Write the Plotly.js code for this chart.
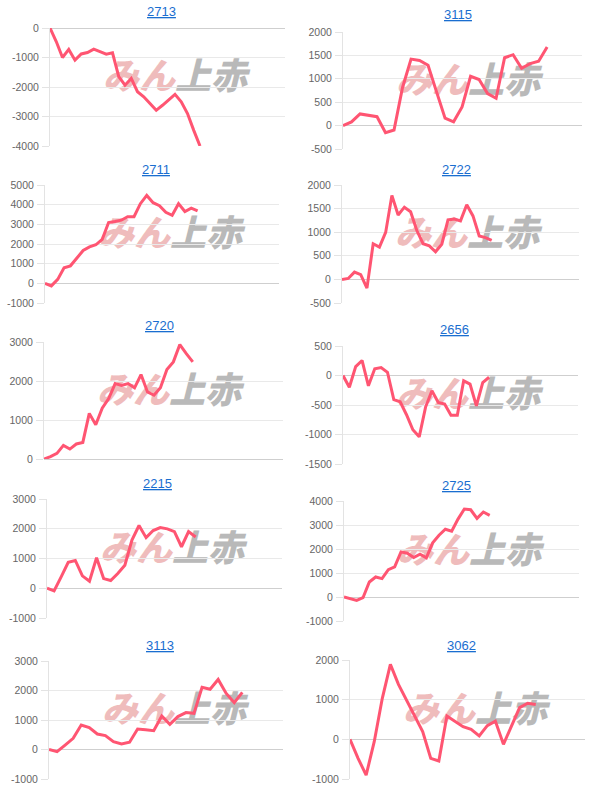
<!DOCTYPE html>
<html>
<head>
<meta charset="utf-8">
<script src="https://cdn.plot.ly/plotly-3.0.1.min.js"></script>
<style>html,body{margin:0;padding:0;background:#fff;}#chart{width:600px;height:790px;}</style>
</head>
<body>
<div id="chart"></div>
<script>
// ---- data ----
const titles = ['2713', '3115', '2711', '2722', '2720', '2656', '2215', '2725', '3113', '3062'];

const s2713 = [0, -460, -1000, -725, -1090, -880, -830, -715, -800, -885, -840, -1650, -1940, -1710, -2160, -2330, -2560, -2790, -2620, -2450, -2250, -2500, -2900, -3470, -4000];
const s3115 = [0, 80, 250, 225, 190, -150, -95, 815, 1420, 1390, 1290, 720, 160, 80, 400, 1055, 985, 685, 585, 1450, 1515, 1225, 1325, 1375, 1680];
const s2711 = [0, -130, 200, 790, 890, 1310, 1670, 1850, 1960, 2240, 3090, 3140, 3210, 3390, 3390, 4050, 4470, 4100, 3950, 3610, 3460, 4050, 3650, 3820, 3680];
const s2722 = [0, 20, 155, 100, -185, 755, 685, 995, 1780, 1365, 1530, 1435, 1035, 755, 710, 585, 745, 1260, 1280, 1240, 1580, 1345, 920, 885, 825];
const s2720 = [0, 60, 145, 350, 255, 385, 425, 1170, 880, 1305, 1550, 1935, 1885, 1935, 1825, 2165, 1720, 1635, 1825, 2295, 2490, 2935, 2700, 2490];
const s2656 = [0, -200, 150, 255, -175, 115, 135, 55, -410, -445, -665, -920, -1040, -535, -260, -455, -485, -675, -675, -90, -145, -515, -120, -30];
const s2215 = [0, -90, 380, 870, 935, 415, 235, 1025, 325, 260, 495, 775, 1620, 2110, 1700, 1940, 2040, 1995, 1905, 1395, 1905, 1725];
const s2725 = [0, -70, -140, -30, 625, 835, 765, 1140, 1255, 1880, 1825, 1645, 1785, 1630, 2255, 2575, 2825, 2745, 3245, 3665, 3635, 3275, 3540, 3400];
const s3113 = [0, -75, 150, 380, 830, 740, 525, 470, 265, 185, 245, 695, 670, 640, 1135, 855, 1115, 1250, 1225, 2110, 2040, 2375, 1900, 1585, 1935];
const s3062 = [0, -480, -900, -60, 1035, 1890, 1385, 990, 615, 195, -480, -545, 590, 460, 320, 250, 85, 345, 460, -125, 320, 800, 910, 880];

const series = [s2713, s3115, s2711, s2722, s2720, s2656, s2215, s2725, s3113, s3062];

const ticks2713 = [-4000, -3000, -2000, -1000, 0];
const ticks3115 = [-500, 0, 500, 1000, 1500, 2000];
const ticks2711 = [-1000, 0, 1000, 2000, 3000, 4000, 5000];
const ticks2722 = [-500, 0, 500, 1000, 1500, 2000];
const ticks2720 = [0, 1000, 2000, 3000];
const ticks2656 = [-1500, -1000, -500, 0, 500];
const ticks2215 = [-1000, 0, 1000, 2000, 3000];
const ticks2725 = [-1000, 0, 1000, 2000, 3000, 4000];
const ticks3113 = [-1000, 0, 1000, 2000, 3000];
const ticks3062 = [-1000, 0, 1000, 2000];
const tickSets = [ticks2713, ticks3115, ticks2711, ticks2722, ticks2720, ticks2656, ticks2215, ticks2725, ticks3113, ticks3062];

const wmPink = 'みん';
const wmGray = '上赤';

// ---- layout (pixel boxes of each plot area: left, right, top, bottom) ----
const W = 600, H = 790;
const boxes = [
  [50, 285, 28, 146], [343, 582, 32, 149],
  [45, 279, 185, 303], [342, 579, 185, 303],
  [44, 283, 342, 459], [343, 578, 346, 464],
  [47, 282, 499, 618], [344, 579, 501, 621],
  [49, 283, 661, 779], [350, 585, 660, 779]
];
const xSpan = [37.6, 28.1, 36.8, 38.0, 36.95, 37.0, 33.2, 37.1, 29.05, 29.1];
const titlePos = [[161, 12], [458, 15], [156, 169], [456, 169], [159, 325], [454, 329], [158, 483], [456, 486], [160, 645], [461, 645]];

const traces = [];
const layout = {
  width: W, height: H,
  margin: {l: 0, r: 0, t: 0, b: 0},
  paper_bgcolor: '#ffffff', plot_bgcolor: 'rgba(0,0,0,0)',
  showlegend: false,
  font: {family: 'Liberation Sans, Arial, sans-serif', color: '#666'},
  annotations: [], shapes: []
};

series.forEach((ys, i) => {
  const k = i === 0 ? '' : String(i + 1);
  const b = boxes[i];
  traces.push({
    type: 'scatter', mode: 'lines',
    x: ys.map((_, j) => j), y: ys,
    xaxis: 'x' + k, yaxis: 'y' + k,
    line: {color: '#ff5572', width: 3},
    hoverinfo: 'skip'
  });
  const ticks = tickSets[i];
  layout['xaxis' + k] = {
    domain: [b[0] / W, b[1] / W],
    range: [0, xSpan[i]],
    anchor: 'y' + k,
    showgrid: false, zeroline: false, showticklabels: false, showline: false, ticks: '', fixedrange: true
  };
  layout['yaxis' + k] = {
    domain: [1 - b[3] / H, 1 - b[2] / H],
    range: [ticks[0], ticks[ticks.length - 1]],
    anchor: 'x' + k,
    tickvals: ticks, ticktext: ticks.map(String),
    showgrid: true, gridcolor: '#e9e9e9', gridwidth: 1,
    zeroline: true, zerolinecolor: '#cfcfcf', zerolinewidth: 1,
    showline: true, linecolor: '#e3e3e3', linewidth: 1,
    ticks: 'outside', ticklen: 7, tickcolor: '#e3e3e3', tickwidth: 1,
    ticklabelstandoff: 1,
    tickfont: {family: 'Liberation Sans, Arial, sans-serif', size: 10.5, color: '#666'},
    fixedrange: true
  };
  // title
  layout.annotations.push({
    text: '<u>' + titles[i] + '</u>', xref: 'paper', yref: 'paper',
    x: titlePos[i][0] / W, y: 1 - titlePos[i][1] / H,
    xanchor: 'center', yanchor: 'middle', showarrow: false,
    font: {family: 'Liberation Sans, Arial, sans-serif', size: 13, color: '#1a6ed0'}
  });
  // watermark (background, below the line)
  const cx = b[0] + 125, cy = (b[2] + b[3]) / 2 - 8;
  layout.shapes.push({
    type: 'rect', xref: 'paper', yref: 'paper', layer: 'below',
    x0: (cx - 75) / W, x1: (cx + 75) / W, y0: 1 - (cy + 14) / H, y1: 1 - (cy - 14) / H,
    line: {width: 0}, fillcolor: 'rgba(0,0,0,0)',
    label: {
      text: '<span style="color:#efbcbc">' + wmPink + '</span><span style="color:#b9b9b9">' + wmGray + '</span>',
      textposition: 'middle center',
      font: {family: 'Noto Sans CJK JP', size: 36, color: '#b9b9b9', weight: 900, style: 'italic'}
    }
  });
});

Plotly.newPlot('chart', traces, layout, {staticPlot: true, displayModeBar: false});
</script>
</body>
</html>
